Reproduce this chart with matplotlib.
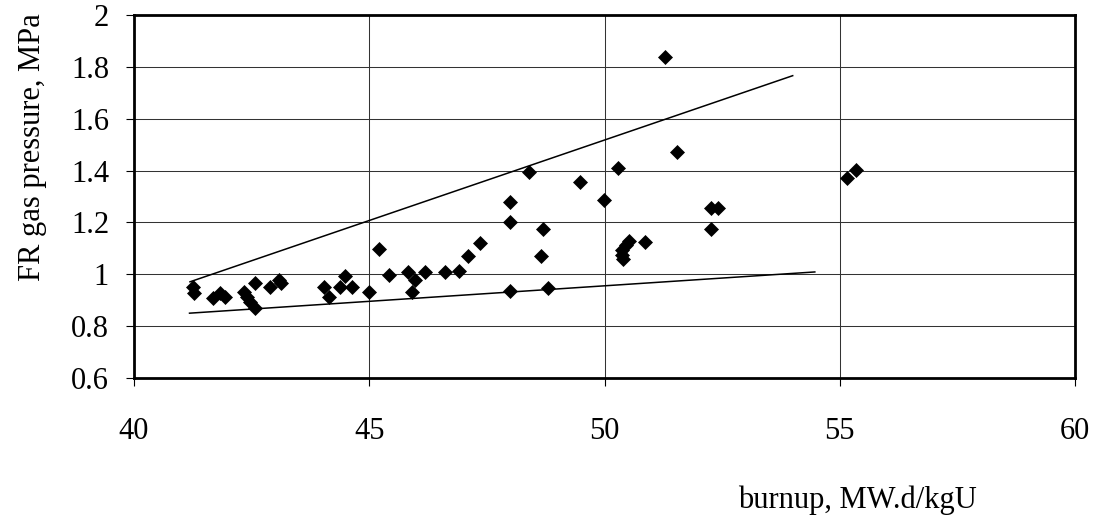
import matplotlib
matplotlib.use('Agg')
import matplotlib.pyplot as plt

# measured points: burnup (MW.d/kgU) vs FR gas pressure (MPa)
burnup = [41.26, 41.28, 41.67, 41.83, 41.94, 42.33, 42.40, 42.47, 42.57, 42.57,
          42.89, 43.09, 43.12, 44.03, 44.14, 44.38, 44.49, 44.63, 45.00, 45.20,
          45.41, 45.82, 45.91, 45.98, 46.19, 46.60, 46.90, 47.09, 47.35, 47.99,
          47.99, 47.99, 48.39, 48.66, 48.70, 48.80, 49.47, 49.99, 50.28, 50.38,
          50.38, 50.40, 50.45, 50.52, 50.87, 51.28, 51.55, 52.26, 52.26, 52.41,
          55.15, 55.34]
pressure = [0.950, 0.927, 0.907, 0.927, 0.914, 0.933, 0.914, 0.894, 0.965, 0.869,
            0.952, 0.978, 0.965, 0.950, 0.914, 0.950, 0.993, 0.950, 0.933, 1.096,
            0.997, 1.010, 0.930, 0.978, 1.010, 1.010, 1.014, 1.071, 1.120, 1.280,
            1.200, 0.936, 1.396, 1.071, 1.175, 0.948, 1.357, 1.287, 1.409, 1.094,
            1.074, 1.058, 1.113, 1.130, 1.126, 1.839, 1.473, 1.255, 1.175, 1.255,
            1.370, 1.402]

# envelope lines
upper_x = [41.19, 54.0]
upper_y = [0.971, 1.766]
lower_x = [41.18, 54.47]
lower_y = [0.850, 1.009]

xticks = [40, 45, 50, 55, 60]
yticks = [0.6, 0.8, 1, 1.2, 1.4, 1.6, 1.8, 2]
ylabels = ['0.6', '0.8', '1', '1.2', '1.4', '1.6', '1.8', '2']

plt.rcParams['font.family'] = ['Liberation Serif', 'DejaVu Serif']

fig = plt.figure(figsize=(10.93, 5.17), dpi=100)
ax = fig.add_axes([134/1093, 1 - 378/517, (1075 - 134)/1093, (378 - 15)/517])

ax.plot(upper_x, upper_y, color='black', lw=1.1)
ax.plot(lower_x, lower_y, color='black', lw=1.1)
ax.plot(burnup, pressure, 'D', color='black', ms=7, mew=0.5, ls='none')

ax.set_xlim(40, 60)
ax.set_ylim(0.6, 2)
ax.set_xticks(xticks)
ax.set_yticks(yticks)
ax.set_yticklabels(ylabels)
ax.grid(True, color='#333333', lw=0.75)
ax.set_axisbelow(True)

for s in ax.spines.values():
    s.set_linewidth(2)
    s.set_color('black')

ax.tick_params(axis='both', direction='out', length=6, width=0.8, labelsize=22)
ax.tick_params(axis='y', pad=12)
ax.tick_params(axis='x', pad=22)

fig.text(33/1093, 1 - 147/517, 'FR gas pressure, MPa', rotation=90,
         ha='center', va='center', fontsize=22)
fig.text(857/1093, 1 - 500/517, 'burnup, MW.d/kgU', ha='center', va='center',
         fontsize=22)

fig.savefig('out.png', dpi=100)
